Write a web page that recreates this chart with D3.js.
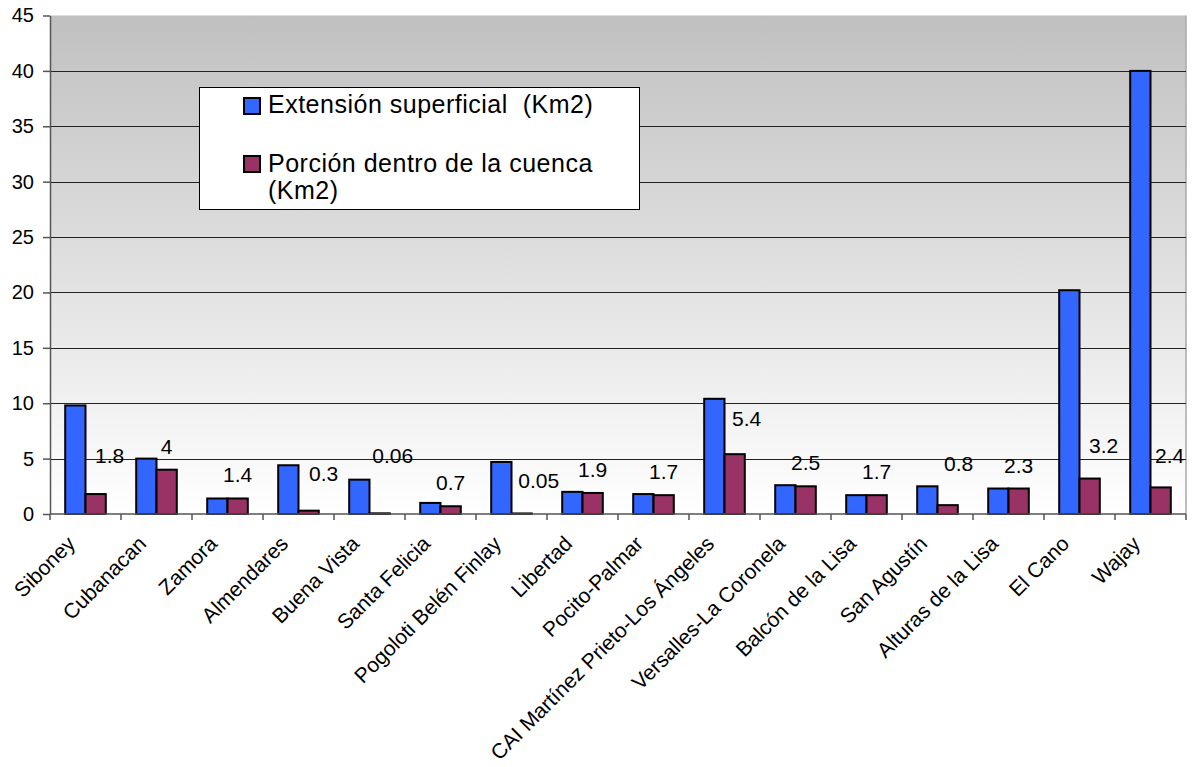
<!DOCTYPE html>
<html>
<head>
<meta charset="utf-8">
<script src="https://cdn.jsdelivr.net/npm/d3@7"></script>
<style>
  body { margin: 0; background: #fff; }
  svg { display: block; font-family: "Liberation Sans", Arial, sans-serif; }
</style>
</head>
<body>
<div id="chart"></div>
<script>
const categories = [
  "Siboney", "Cubanacan", "Zamora", "Almendares", "Buena Vista", "Santa Felicia",
  "Pogoloti Belén Finlay", "Libertad", "Pocito-Palmar", "CAI Martínez Prieto-Los Ángeles",
  "Versalles-La Coronela", "Balcón de la Lisa", "San Agustín", "Alturas de la Lisa",
  "El Cano", "Wajay"
];
const extension = [9.8, 5, 1.4, 4.4, 3.1, 1.0, 4.7, 2.0, 1.8, 10.4, 2.6, 1.7, 2.5, 2.3, 20.2, 40];
const porcion = [1.8, 4, 1.4, 0.3, 0.06, 0.7, 0.05, 1.9, 1.7, 5.4, 2.5, 1.7, 0.8, 2.3, 3.2, 2.4];
const seriesNames = ["Extensión superficial  (Km2)", "Porción dentro de la cuenca"];
const yTicks = [0, 5, 10, 15, 20, 25, 30, 35, 40, 45];

// labels that were dragged away from their default spot (px)
const labelNudge = [
  [14, -15], [0, 0], [0, 0], [15, -14], [13, -34], [0, 0], [17, -9], [0, 0],
  [0, 0], [12, -12], [0, 0], [0, 0], [11, -18], [0, 0], [14, -10], [9, -8]
];

const width = 1194, height = 767;
const plot = { left: 50, right: 1186, top: 15.5, bottom: 514 };
const colours = { ext: "#3366ff", por: "#993366" };

const svg = d3.select("#chart").append("svg")
  .attr("width", width)
  .attr("height", height);

const grad = svg.append("defs").append("linearGradient")
  .attr("id", "bg").attr("x1", 0).attr("y1", 0).attr("x2", 0).attr("y2", 1);
grad.append("stop").attr("offset", "0%").attr("stop-color", "#c0c0c0");
grad.append("stop").attr("offset", "100%").attr("stop-color", "#ffffff");

const x = d3.scaleBand().domain(categories).range([plot.left, plot.right]);
const xs = d3.scaleBand().domain(["ext", "por"]).range([15.2, 55.8]);
const y = d3.scaleLinear().domain([0, 45]).range([plot.bottom, plot.top]);

svg.append("rect")
  .attr("x", plot.left).attr("y", plot.top)
  .attr("width", plot.right - plot.left).attr("height", plot.bottom - plot.top)
  .attr("fill", "url(#bg)");

svg.append("line")
  .attr("x1", plot.right).attr("x2", plot.right)
  .attr("y1", plot.top).attr("y2", plot.bottom)
  .attr("stroke", "#a8a8a8").attr("stroke-width", 1.5);

// gridlines
svg.append("g").selectAll("line")
  .data(yTicks.filter(d => d > 0 && d < 45))
  .join("line")
  .attr("x1", plot.left).attr("x2", plot.right)
  .attr("y1", d => Math.round(y(d)) + 0.5).attr("y2", d => Math.round(y(d)) + 0.5)
  .attr("stroke", "#222").attr("stroke-width", 1);

// y axis
const yAxis = svg.append("g")
  .attr("transform", `translate(${plot.left},0)`)
  .call(d3.axisLeft(y).tickValues(yTicks).tickSize(7).tickPadding(9).tickSizeOuter(0));
yAxis.select(".domain").attr("stroke", "#555").attr("stroke-width", 1.5);
yAxis.selectAll(".tick line").attr("stroke", "#555").attr("stroke-width", 1.5);
yAxis.selectAll("text").attr("font-size", 20).attr("fill", "#000")
  .attr("font-family", "Liberation Sans, Arial, sans-serif");

// bars
const groups = svg.append("g").selectAll("g")
  .data(categories)
  .join("g")
  .attr("transform", d => `translate(${x(d)},0)`);

groups.append("rect")
  .attr("x", xs("ext"))
  .attr("y", (d, i) => y(extension[i]))
  .attr("width", xs.bandwidth())
  .attr("height", (d, i) => y(0) - y(extension[i]))
  .attr("fill", colours.ext).attr("stroke", "#000").attr("stroke-width", 2);

groups.append("rect")
  .attr("x", xs("por"))
  .attr("y", (d, i) => y(porcion[i]))
  .attr("width", xs.bandwidth())
  .attr("height", (d, i) => y(0) - y(porcion[i]))
  .attr("fill", colours.por).attr("stroke", "#000").attr("stroke-width", 2);

// data labels on the second series
groups.append("text")
  .attr("x", (d, i) => xs("por") + xs.bandwidth() / 2 + labelNudge[i][0])
  .attr("y", (d, i) => y(porcion[i]) - 16 + labelNudge[i][1])
  .attr("text-anchor", "middle")
  .attr("font-size", 21)
  .text((d, i) => porcion[i]);

// x axis
const xAxis = svg.append("g")
  .attr("transform", `translate(0,${plot.bottom})`);
xAxis.append("line")
  .attr("x1", plot.left).attr("x2", plot.right)
  .attr("stroke", "#555").attr("stroke-width", 1.5);
xAxis.selectAll(".tk")
  .data(d3.range(categories.length + 1))
  .join("line")
  .attr("class", "tk")
  .attr("x1", i => plot.left + i * x.bandwidth()).attr("x2", i => plot.left + i * x.bandwidth())
  .attr("y1", 0).attr("y2", 6)
  .attr("stroke", "#555").attr("stroke-width", 1.5);

svg.append("g").selectAll("text")
  .data(categories)
  .join("text")
  .attr("transform", d => `translate(${x(d) + x.bandwidth() / 2 - 9},${plot.bottom + 31}) rotate(-45)`)
  .attr("text-anchor", "end")
  .attr("font-size", 21)
  .text(d => d);

// legend
const legend = svg.append("g");
legend.append("rect")
  .attr("x", 199.5).attr("y", 87.5).attr("width", 440).attr("height", 122)
  .attr("fill", "#fff").attr("stroke", "#000").attr("stroke-width", 1);
legend.append("rect")
  .attr("x", 244).attr("y", 98).attr("width", 16).attr("height", 16)
  .attr("fill", colours.ext).attr("stroke", "#000").attr("stroke-width", 2);
legend.append("rect")
  .attr("x", 244).attr("y", 156).attr("width", 16).attr("height", 16)
  .attr("fill", colours.por).attr("stroke", "#000").attr("stroke-width", 2);
legend.append("text")
  .attr("x", 268).attr("y", 113).attr("font-size", 25)
  .attr("letter-spacing", 0.5)
  .attr("xml:space", "preserve")
  .text(seriesNames[0]);
const t2 = legend.append("text").attr("font-size", 25).attr("letter-spacing", 0.5);
t2.append("tspan").attr("x", 268).attr("y", 172).text(seriesNames[1]);
t2.append("tspan").attr("x", 268).attr("y", 199).text("(Km2)");
</script>
</body>
</html>
